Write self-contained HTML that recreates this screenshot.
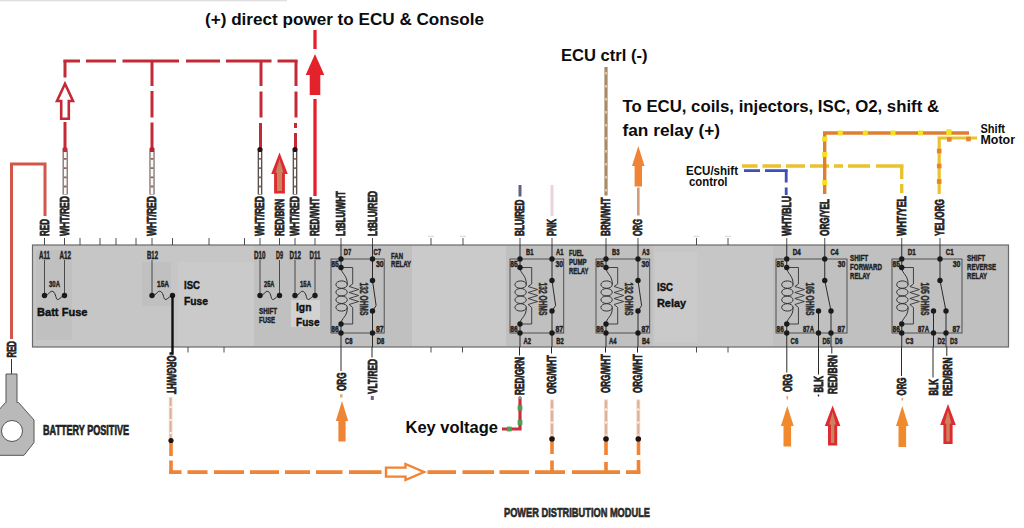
<!DOCTYPE html>
<html lang="en">
<head>
<meta charset="utf-8">
<title>Power Distribution Module wiring</title>
<style>
html,body{margin:0;padding:0;background:#fff;}
body{width:1024px;height:528px;overflow:hidden;}
svg{display:block;font-family:"Liberation Sans", sans-serif;}
</style>
</head>
<body>
<svg width="1024" height="528" viewBox="0 0 1024 528">
<rect x="0" y="0" width="1024" height="528" fill="#fff"/>
<rect x="0" y="0" width="287" height="1.3" fill="#e0e0e0" stroke="none" stroke-width="0"/>
<rect x="32.5" y="245" width="976.0" height="102" fill="#c6c6c6" stroke="none" stroke-width="0"/>
<rect x="254" y="245" width="158" height="102" fill="#c0c0c0" stroke="none" stroke-width="0"/>
<rect x="506" y="245" width="147" height="102" fill="#c0c0c0" stroke="none" stroke-width="0"/>
<rect x="773" y="245" width="235.5" height="102" fill="#c0c0c0" stroke="none" stroke-width="0"/>
<rect x="36" y="250" width="36" height="90" fill="#c0c0c0" stroke="none" stroke-width="0"/>
<rect x="142" y="262" width="29" height="44" fill="#c0c0c0" stroke="none" stroke-width="0"/>
<rect x="412" y="246" width="94" height="100" fill="#cacaca" stroke="none" stroke-width="0"/>
<rect x="655" y="252" width="42" height="90" fill="#cacaca" stroke="none" stroke-width="0"/>
<rect x="291" y="300" width="29" height="27" fill="#d2d2d2" stroke="none" stroke-width="0"/>
<rect x="178" y="262" width="76" height="84.5" fill="#cacaca" stroke="none" stroke-width="0"/>
<rect x="32.5" y="245" width="976.0" height="102" fill="none" stroke="#6a6a6a" stroke-width="1.2"/>
<line x1="44.5" y1="238" x2="44.5" y2="245" stroke="#3a3a3a" stroke-width="0.9" />
<line x1="64.5" y1="238" x2="64.5" y2="245" stroke="#3a3a3a" stroke-width="0.9" />
<line x1="80" y1="238" x2="80" y2="245" stroke="#3a3a3a" stroke-width="0.9" />
<line x1="100" y1="238" x2="100" y2="245" stroke="#3a3a3a" stroke-width="0.9" />
<line x1="116" y1="238" x2="116" y2="245" stroke="#3a3a3a" stroke-width="0.9" />
<line x1="136" y1="238" x2="136" y2="245" stroke="#3a3a3a" stroke-width="0.9" />
<line x1="152" y1="238" x2="152" y2="245" stroke="#3a3a3a" stroke-width="0.9" />
<line x1="172.5" y1="238" x2="172.5" y2="245" stroke="#3a3a3a" stroke-width="0.9" />
<line x1="209" y1="238" x2="209" y2="245" stroke="#3a3a3a" stroke-width="0.9" />
<line x1="244.5" y1="238" x2="244.5" y2="245" stroke="#3a3a3a" stroke-width="0.9" />
<line x1="260" y1="238" x2="260" y2="245" stroke="#3a3a3a" stroke-width="0.9" />
<line x1="279.5" y1="238" x2="279.5" y2="245" stroke="#3a3a3a" stroke-width="0.9" />
<line x1="295" y1="238" x2="295" y2="245" stroke="#3a3a3a" stroke-width="0.9" />
<line x1="315" y1="238" x2="315" y2="245" stroke="#3a3a3a" stroke-width="0.9" />
<line x1="341" y1="238" x2="341" y2="245" stroke="#3a3a3a" stroke-width="0.9" />
<line x1="372.5" y1="238" x2="372.5" y2="245" stroke="#3a3a3a" stroke-width="0.9" />
<line x1="431" y1="238" x2="431" y2="245" stroke="#3a3a3a" stroke-width="0.9" />
<line x1="463" y1="238" x2="463" y2="245" stroke="#3a3a3a" stroke-width="0.9" />
<line x1="520" y1="238" x2="520" y2="245" stroke="#3a3a3a" stroke-width="0.9" />
<line x1="552" y1="238" x2="552" y2="245" stroke="#3a3a3a" stroke-width="0.9" />
<line x1="606" y1="238" x2="606" y2="245" stroke="#3a3a3a" stroke-width="0.9" />
<line x1="638" y1="238" x2="638" y2="245" stroke="#3a3a3a" stroke-width="0.9" />
<line x1="696.5" y1="238" x2="696.5" y2="245" stroke="#3a3a3a" stroke-width="0.9" />
<line x1="728" y1="238" x2="728" y2="245" stroke="#3a3a3a" stroke-width="0.9" />
<line x1="786.75" y1="238" x2="786.75" y2="245" stroke="#3a3a3a" stroke-width="0.9" />
<line x1="824.75" y1="238" x2="824.75" y2="245" stroke="#3a3a3a" stroke-width="0.9" />
<line x1="901.75" y1="238" x2="901.75" y2="245" stroke="#3a3a3a" stroke-width="0.9" />
<line x1="940" y1="238" x2="940" y2="245" stroke="#3a3a3a" stroke-width="0.9" />
<line x1="428" y1="236.3" x2="434" y2="236.3" stroke="#cfcfcf" stroke-width="0.9" />
<line x1="460" y1="236.3" x2="466" y2="236.3" stroke="#cfcfcf" stroke-width="0.9" />
<line x1="693.5" y1="236.3" x2="699.5" y2="236.3" stroke="#cfcfcf" stroke-width="0.9" />
<line x1="725" y1="236.3" x2="731" y2="236.3" stroke="#cfcfcf" stroke-width="0.9" />
<line x1="188" y1="347" x2="188" y2="352.5" stroke="#3a3a3a" stroke-width="0.9" />
<line x1="224" y1="347" x2="224" y2="352.5" stroke="#3a3a3a" stroke-width="0.9" />
<line x1="431" y1="347" x2="431" y2="352.5" stroke="#3a3a3a" stroke-width="0.9" />
<line x1="462.5" y1="347" x2="462.5" y2="352.5" stroke="#3a3a3a" stroke-width="0.9" />
<line x1="696.5" y1="347" x2="696.5" y2="352.5" stroke="#3a3a3a" stroke-width="0.9" />
<line x1="728" y1="347" x2="728" y2="352.5" stroke="#3a3a3a" stroke-width="0.9" />
<path d="M45 216 V164 H11.5 V339" stroke="#d0574a" stroke-width="3" fill="none" />
<text transform="translate(48.94,236.00) rotate(-90)" font-size="12.4" font-weight="700" fill="#222" stroke="#222" stroke-width="0.7" textLength="17.00" lengthAdjust="spacingAndGlyphs">RED</text>
<text transform="translate(16.44,357.50) rotate(-90)" font-size="12.4" font-weight="700" fill="#222" stroke="#222" stroke-width="0.7" textLength="16.50" lengthAdjust="spacingAndGlyphs">RED</text>
<line x1="11.5" y1="359" x2="11.5" y2="374" stroke="#333" stroke-width="1" />
<path d="M6 374 H17 V402.5 H18.5 L34 420 V442.5 L24 455.3 H0 L-10 442.5 V420 L5.5 402.5 H6 Z" stroke="#555" stroke-width="1" fill="#b9b9b9" />
<circle cx="12" cy="431" r="10.5" fill="#fff" stroke="#555" stroke-width="1"/>
<text x="43.00" y="435.00" font-size="14" font-weight="700" fill="#222" stroke="#222" stroke-width="0.7" textLength="86.00" lengthAdjust="spacingAndGlyphs">BATTERY POSITIVE</text>
<line x1="44.5" y1="260" x2="44.5" y2="295.5" stroke="#3a3a3a" stroke-width="0.9" />
<line x1="64.5" y1="260" x2="64.5" y2="295.5" stroke="#3a3a3a" stroke-width="0.9" />
<path d="M44.5 295.5 C49.5 295.5 49.5 290 52.9 291.5 S55.5 300.5 58.1 299.5 S62.1 295.5 64.5 295.5" stroke="#2a2a2a" stroke-width="1" fill="none" />
<circle cx="44.5" cy="295.5" r="2.7" fill="#1a1a1a"/>
<circle cx="64.5" cy="295.5" r="2.7" fill="#1a1a1a"/>
<text x="39.00" y="258.60" font-size="10.3" font-weight="700" fill="#222" stroke="#222" stroke-width="0.45" textLength="11.00" lengthAdjust="spacingAndGlyphs">A11</text>
<text x="59.50" y="258.60" font-size="10.3" font-weight="700" fill="#222" stroke="#222" stroke-width="0.45" textLength="11.50" lengthAdjust="spacingAndGlyphs">A12</text>
<text x="49.00" y="287.40" font-size="9.3" font-weight="700" fill="#222" stroke="#222" stroke-width="0.45" textLength="11.00" lengthAdjust="spacingAndGlyphs">30A</text>
<line x1="152" y1="260" x2="152" y2="295.5" stroke="#3a3a3a" stroke-width="0.9" />
<path d="M152 295.5 C157.125 295.5 157.125 290 160.61 291.5 S163.275 300.5 165.94 299.5 S170.04 295.5 172.5 295.5" stroke="#2a2a2a" stroke-width="1" fill="none" />
<circle cx="152" cy="295.5" r="2.7" fill="#1a1a1a"/>
<circle cx="172.5" cy="295.5" r="2.7" fill="#1a1a1a"/>
<text x="147.00" y="258.60" font-size="10.3" font-weight="700" fill="#222" stroke="#222" stroke-width="0.45" textLength="11.00" lengthAdjust="spacingAndGlyphs">B12</text>
<text x="157.00" y="287.40" font-size="9.3" font-weight="700" fill="#222" stroke="#222" stroke-width="0.45" textLength="12.00" lengthAdjust="spacingAndGlyphs">15A</text>
<line x1="260" y1="260" x2="260" y2="295.5" stroke="#3a3a3a" stroke-width="0.9" />
<line x1="279.5" y1="260" x2="279.5" y2="295.5" stroke="#3a3a3a" stroke-width="0.9" />
<path d="M260 295.5 C264.875 295.5 264.875 290 268.19 291.5 S270.725 300.5 273.26 299.5 S277.16 295.5 279.5 295.5" stroke="#2a2a2a" stroke-width="1" fill="none" />
<circle cx="260" cy="295.5" r="2.7" fill="#1a1a1a"/>
<circle cx="279.5" cy="295.5" r="2.7" fill="#1a1a1a"/>
<text x="254.00" y="258.60" font-size="10.3" font-weight="700" fill="#222" stroke="#222" stroke-width="0.45" textLength="11.50" lengthAdjust="spacingAndGlyphs">D10</text>
<text x="276.00" y="258.60" font-size="10.3" font-weight="700" fill="#222" stroke="#222" stroke-width="0.45" textLength="7.00" lengthAdjust="spacingAndGlyphs">D9</text>
<text x="264.00" y="287.40" font-size="9.3" font-weight="700" fill="#222" stroke="#222" stroke-width="0.45" textLength="10.50" lengthAdjust="spacingAndGlyphs">25A</text>
<line x1="295" y1="260" x2="295" y2="295.5" stroke="#3a3a3a" stroke-width="0.9" />
<line x1="315" y1="260" x2="315" y2="295.5" stroke="#3a3a3a" stroke-width="0.9" />
<path d="M295 295.5 C300.0 295.5 300.0 290 303.4 291.5 S306.0 300.5 308.6 299.5 S312.6 295.5 315 295.5" stroke="#2a2a2a" stroke-width="1" fill="none" />
<circle cx="295" cy="295.5" r="2.7" fill="#1a1a1a"/>
<circle cx="315" cy="295.5" r="2.7" fill="#1a1a1a"/>
<text x="289.50" y="258.60" font-size="10.3" font-weight="700" fill="#222" stroke="#222" stroke-width="0.45" textLength="11.50" lengthAdjust="spacingAndGlyphs">D12</text>
<text x="309.50" y="258.60" font-size="10.3" font-weight="700" fill="#222" stroke="#222" stroke-width="0.45" textLength="11.00" lengthAdjust="spacingAndGlyphs">D11</text>
<text x="300.00" y="287.40" font-size="9.3" font-weight="700" fill="#222" stroke="#222" stroke-width="0.45" textLength="11.00" lengthAdjust="spacingAndGlyphs">15A</text>
<text x="259.00" y="314.00" font-size="9" font-weight="700" fill="#222" stroke="#222" stroke-width="0.45" textLength="18.00" lengthAdjust="spacingAndGlyphs">SHIFT</text>
<text x="259.00" y="322.50" font-size="9" font-weight="700" fill="#222" stroke="#222" stroke-width="0.45" textLength="16.00" lengthAdjust="spacingAndGlyphs">FUSE</text>
<text x="37.00" y="316.00" font-size="11.4" font-weight="700" fill="#111" stroke="#111" stroke-width="0.4" textLength="50.50" lengthAdjust="spacingAndGlyphs">Batt Fuse</text>
<text x="184.00" y="289.00" font-size="11.4" font-weight="700" fill="#111" stroke="#111" stroke-width="0.4" textLength="16.00" lengthAdjust="spacingAndGlyphs">ISC</text>
<text x="184.00" y="305.00" font-size="11.4" font-weight="700" fill="#111" stroke="#111" stroke-width="0.4" textLength="24.00" lengthAdjust="spacingAndGlyphs">Fuse</text>
<text x="296.00" y="311.00" font-size="11.4" font-weight="700" fill="#111" stroke="#111" stroke-width="0.4" textLength="15.50" lengthAdjust="spacingAndGlyphs">Ign</text>
<text x="296.00" y="326.00" font-size="11.4" font-weight="700" fill="#111" stroke="#111" stroke-width="0.4" textLength="23.50" lengthAdjust="spacingAndGlyphs">Fuse</text>
<text x="657.00" y="291.00" font-size="11.4" font-weight="700" fill="#111" stroke="#111" stroke-width="0.4" textLength="16.00" lengthAdjust="spacingAndGlyphs">ISC</text>
<text x="657.00" y="307.00" font-size="11.4" font-weight="700" fill="#111" stroke="#111" stroke-width="0.4" textLength="29.00" lengthAdjust="spacingAndGlyphs">Relay</text>
<rect x="331" y="259" width="53.19999999999999" height="74" fill="none" stroke="#444" stroke-width="0.9"/>
<line x1="341" y1="245" x2="341" y2="267.5" stroke="#2a2a2a" stroke-width="1" />
<line x1="341" y1="324" x2="341" y2="347" stroke="#2a2a2a" stroke-width="1" />
<line x1="372.5" y1="245" x2="372.5" y2="280.5" stroke="#2a2a2a" stroke-width="1" />
<line x1="372.5" y1="311" x2="372.5" y2="347" stroke="#2a2a2a" stroke-width="1" />
<path d="M372.5 280.5 L376.1 305.5 L372.5 311" stroke="#2a2a2a" stroke-width="1" fill="none" />
<path d="M341 267.5 C341.3 274 347.6 275 347.3 284.6" stroke="#333" stroke-width="1" fill="none" />
<path d="M347.3 307.4 C347.6 317 341.3 317.5 341 324" stroke="#333" stroke-width="1" fill="none" />
<ellipse cx="341.6" cy="284.6" rx="5.7" ry="3.7" fill="none" stroke="#333" stroke-width="1"/>
<ellipse cx="341.6" cy="292.2" rx="5.7" ry="3.7" fill="none" stroke="#333" stroke-width="1"/>
<ellipse cx="341.6" cy="299.8" rx="5.7" ry="3.7" fill="none" stroke="#333" stroke-width="1"/>
<ellipse cx="341.6" cy="307.4" rx="5.7" ry="3.7" fill="none" stroke="#333" stroke-width="1"/>
<path d="M341 267.5 H352.7 V284 L349.09999999999997 286.5 L358.7 289.5 L349.09999999999997 292.5 L358.7 295.5 L349.09999999999997 298.5 L358.7 301.5 L349.09999999999997 304.5 L352.7 307.5 V324 H341" stroke="#333" stroke-width="0.9" fill="none" />
<text transform="translate(359.92,282.50) rotate(90)" font-size="10" font-weight="700" fill="#2c2c2c" stroke="#2c2c2c" stroke-width="0.5" textLength="33.00" lengthAdjust="spacingAndGlyphs">132 OHMS</text>
<circle cx="341" cy="259" r="2.7" fill="#1a1a1a"/>
<circle cx="341" cy="267.5" r="2.7" fill="#1a1a1a"/>
<circle cx="341" cy="324" r="2.7" fill="#1a1a1a"/>
<circle cx="341" cy="333" r="2.7" fill="#1a1a1a"/>
<circle cx="372.5" cy="259" r="2.7" fill="#1a1a1a"/>
<circle cx="372.5" cy="280.5" r="2.7" fill="#1a1a1a"/>
<circle cx="372.5" cy="311" r="2.7" fill="#1a1a1a"/>
<circle cx="372.5" cy="333" r="2.7" fill="#1a1a1a"/>
<text x="331.30" y="267.00" font-size="9" font-weight="700" fill="#222" stroke="#222" stroke-width="0.45" textLength="7.50" lengthAdjust="spacingAndGlyphs">85</text>
<text x="331.30" y="332.30" font-size="9" font-weight="700" fill="#222" stroke="#222" stroke-width="0.45" textLength="7.50" lengthAdjust="spacingAndGlyphs">86</text>
<text x="375.90" y="267.00" font-size="9" font-weight="700" fill="#222" stroke="#222" stroke-width="0.45" textLength="7.70" lengthAdjust="spacingAndGlyphs">30</text>
<text x="375.90" y="332.30" font-size="9" font-weight="700" fill="#222" stroke="#222" stroke-width="0.45" textLength="7.70" lengthAdjust="spacingAndGlyphs">87</text>
<text x="343.70" y="254.60" font-size="9" font-weight="700" fill="#222" stroke="#222" stroke-width="0.45" textLength="7.50" lengthAdjust="spacingAndGlyphs">D7</text>
<text x="373.50" y="254.60" font-size="9" font-weight="700" fill="#222" stroke="#222" stroke-width="0.45" textLength="7.50" lengthAdjust="spacingAndGlyphs">C7</text>
<text x="345.00" y="344.00" font-size="9" font-weight="700" fill="#222" stroke="#222" stroke-width="0.45" textLength="7.50" lengthAdjust="spacingAndGlyphs">C8</text>
<text x="376.80" y="344.00" font-size="9" font-weight="700" fill="#222" stroke="#222" stroke-width="0.45" textLength="7.50" lengthAdjust="spacingAndGlyphs">D8</text>
<text x="391.00" y="259.00" font-size="9.3" font-weight="700" fill="#222" stroke="#222" stroke-width="0.45" textLength="12.00" lengthAdjust="spacingAndGlyphs">FAN</text>
<text x="391.00" y="267.30" font-size="9.3" font-weight="700" fill="#222" stroke="#222" stroke-width="0.45" textLength="20.00" lengthAdjust="spacingAndGlyphs">RELAY</text>
<rect x="510" y="259" width="53.700000000000045" height="74" fill="none" stroke="#444" stroke-width="0.9"/>
<line x1="520" y1="245" x2="520" y2="267.5" stroke="#2a2a2a" stroke-width="1" />
<line x1="520" y1="324" x2="520" y2="347" stroke="#2a2a2a" stroke-width="1" />
<line x1="552" y1="245" x2="552" y2="280.5" stroke="#2a2a2a" stroke-width="1" />
<line x1="552" y1="311" x2="552" y2="347" stroke="#2a2a2a" stroke-width="1" />
<path d="M552 280.5 L555.6 305.5 L552 311" stroke="#2a2a2a" stroke-width="1" fill="none" />
<path d="M520 267.5 C520.3 274 526.6 275 526.3 284.6" stroke="#333" stroke-width="1" fill="none" />
<path d="M526.3 307.4 C526.6 317 520.3 317.5 520 324" stroke="#333" stroke-width="1" fill="none" />
<ellipse cx="520.6" cy="284.6" rx="5.7" ry="3.7" fill="none" stroke="#333" stroke-width="1"/>
<ellipse cx="520.6" cy="292.2" rx="5.7" ry="3.7" fill="none" stroke="#333" stroke-width="1"/>
<ellipse cx="520.6" cy="299.8" rx="5.7" ry="3.7" fill="none" stroke="#333" stroke-width="1"/>
<ellipse cx="520.6" cy="307.4" rx="5.7" ry="3.7" fill="none" stroke="#333" stroke-width="1"/>
<path d="M520 267.5 H531.7 V284 L528.1 286.5 L537.7 289.5 L528.1 292.5 L537.7 295.5 L528.1 298.5 L537.7 301.5 L528.1 304.5 L531.7 307.5 V324 H520" stroke="#333" stroke-width="0.9" fill="none" />
<text transform="translate(538.92,282.50) rotate(90)" font-size="10" font-weight="700" fill="#2c2c2c" stroke="#2c2c2c" stroke-width="0.5" textLength="33.00" lengthAdjust="spacingAndGlyphs">132 OHMS</text>
<circle cx="520" cy="259" r="2.7" fill="#1a1a1a"/>
<circle cx="520" cy="267.5" r="2.7" fill="#1a1a1a"/>
<circle cx="520" cy="324" r="2.7" fill="#1a1a1a"/>
<circle cx="520" cy="333" r="2.7" fill="#1a1a1a"/>
<circle cx="552" cy="259" r="2.7" fill="#1a1a1a"/>
<circle cx="552" cy="280.5" r="2.7" fill="#1a1a1a"/>
<circle cx="552" cy="311" r="2.7" fill="#1a1a1a"/>
<circle cx="552" cy="333" r="2.7" fill="#1a1a1a"/>
<text x="510.30" y="267.00" font-size="9" font-weight="700" fill="#222" stroke="#222" stroke-width="0.45" textLength="7.50" lengthAdjust="spacingAndGlyphs">85</text>
<text x="510.30" y="332.30" font-size="9" font-weight="700" fill="#222" stroke="#222" stroke-width="0.45" textLength="7.50" lengthAdjust="spacingAndGlyphs">86</text>
<text x="555.40" y="267.00" font-size="9" font-weight="700" fill="#222" stroke="#222" stroke-width="0.45" textLength="7.70" lengthAdjust="spacingAndGlyphs">30</text>
<text x="555.40" y="332.30" font-size="9" font-weight="700" fill="#222" stroke="#222" stroke-width="0.45" textLength="7.70" lengthAdjust="spacingAndGlyphs">87</text>
<text x="526.00" y="254.60" font-size="9" font-weight="700" fill="#222" stroke="#222" stroke-width="0.45" textLength="7.50" lengthAdjust="spacingAndGlyphs">B1</text>
<text x="556.00" y="254.60" font-size="9" font-weight="700" fill="#222" stroke="#222" stroke-width="0.45" textLength="7.50" lengthAdjust="spacingAndGlyphs">A1</text>
<text x="523.50" y="344.00" font-size="9" font-weight="700" fill="#222" stroke="#222" stroke-width="0.45" textLength="7.50" lengthAdjust="spacingAndGlyphs">A2</text>
<text x="556.20" y="344.00" font-size="9" font-weight="700" fill="#222" stroke="#222" stroke-width="0.45" textLength="7.50" lengthAdjust="spacingAndGlyphs">B2</text>
<text x="569.00" y="256.30" font-size="9.3" font-weight="700" fill="#222" stroke="#222" stroke-width="0.45" textLength="14.50" lengthAdjust="spacingAndGlyphs">FUEL</text>
<text x="569.00" y="265.20" font-size="9.3" font-weight="700" fill="#222" stroke="#222" stroke-width="0.45" textLength="17.50" lengthAdjust="spacingAndGlyphs">PUMP</text>
<text x="569.00" y="274.00" font-size="9.3" font-weight="700" fill="#222" stroke="#222" stroke-width="0.45" textLength="19.50" lengthAdjust="spacingAndGlyphs">RELAY</text>
<rect x="596" y="259" width="53.700000000000045" height="74" fill="none" stroke="#444" stroke-width="0.9"/>
<line x1="606" y1="245" x2="606" y2="267.5" stroke="#2a2a2a" stroke-width="1" />
<line x1="606" y1="324" x2="606" y2="347" stroke="#2a2a2a" stroke-width="1" />
<line x1="638" y1="245" x2="638" y2="280.5" stroke="#2a2a2a" stroke-width="1" />
<line x1="638" y1="311" x2="638" y2="347" stroke="#2a2a2a" stroke-width="1" />
<path d="M638 280.5 L641.6 305.5 L638 311" stroke="#2a2a2a" stroke-width="1" fill="none" />
<path d="M606 267.5 C606.3 274 612.6 275 612.3 284.6" stroke="#333" stroke-width="1" fill="none" />
<path d="M612.3 307.4 C612.6 317 606.3 317.5 606 324" stroke="#333" stroke-width="1" fill="none" />
<ellipse cx="606.6" cy="284.6" rx="5.7" ry="3.7" fill="none" stroke="#333" stroke-width="1"/>
<ellipse cx="606.6" cy="292.2" rx="5.7" ry="3.7" fill="none" stroke="#333" stroke-width="1"/>
<ellipse cx="606.6" cy="299.8" rx="5.7" ry="3.7" fill="none" stroke="#333" stroke-width="1"/>
<ellipse cx="606.6" cy="307.4" rx="5.7" ry="3.7" fill="none" stroke="#333" stroke-width="1"/>
<path d="M606 267.5 H617.7 V284 L614.1 286.5 L623.7 289.5 L614.1 292.5 L623.7 295.5 L614.1 298.5 L623.7 301.5 L614.1 304.5 L617.7 307.5 V324 H606" stroke="#333" stroke-width="0.9" fill="none" />
<text transform="translate(624.92,282.50) rotate(90)" font-size="10" font-weight="700" fill="#2c2c2c" stroke="#2c2c2c" stroke-width="0.5" textLength="33.00" lengthAdjust="spacingAndGlyphs">132 OHMS</text>
<circle cx="606" cy="259" r="2.7" fill="#1a1a1a"/>
<circle cx="606" cy="267.5" r="2.7" fill="#1a1a1a"/>
<circle cx="606" cy="324" r="2.7" fill="#1a1a1a"/>
<circle cx="606" cy="333" r="2.7" fill="#1a1a1a"/>
<circle cx="638" cy="259" r="2.7" fill="#1a1a1a"/>
<circle cx="638" cy="280.5" r="2.7" fill="#1a1a1a"/>
<circle cx="638" cy="311" r="2.7" fill="#1a1a1a"/>
<circle cx="638" cy="333" r="2.7" fill="#1a1a1a"/>
<text x="596.30" y="267.00" font-size="9" font-weight="700" fill="#222" stroke="#222" stroke-width="0.45" textLength="7.50" lengthAdjust="spacingAndGlyphs">85</text>
<text x="596.30" y="332.30" font-size="9" font-weight="700" fill="#222" stroke="#222" stroke-width="0.45" textLength="7.50" lengthAdjust="spacingAndGlyphs">86</text>
<text x="641.40" y="267.00" font-size="9" font-weight="700" fill="#222" stroke="#222" stroke-width="0.45" textLength="7.70" lengthAdjust="spacingAndGlyphs">30</text>
<text x="641.40" y="332.30" font-size="9" font-weight="700" fill="#222" stroke="#222" stroke-width="0.45" textLength="7.70" lengthAdjust="spacingAndGlyphs">87</text>
<text x="612.00" y="254.60" font-size="9" font-weight="700" fill="#222" stroke="#222" stroke-width="0.45" textLength="7.50" lengthAdjust="spacingAndGlyphs">B3</text>
<text x="642.00" y="254.60" font-size="9" font-weight="700" fill="#222" stroke="#222" stroke-width="0.45" textLength="7.50" lengthAdjust="spacingAndGlyphs">A3</text>
<text x="609.00" y="344.00" font-size="9" font-weight="700" fill="#222" stroke="#222" stroke-width="0.45" textLength="7.50" lengthAdjust="spacingAndGlyphs">A4</text>
<text x="642.00" y="344.00" font-size="9" font-weight="700" fill="#222" stroke="#222" stroke-width="0.45" textLength="7.50" lengthAdjust="spacingAndGlyphs">B4</text>
<rect x="776" y="259" width="71" height="74" fill="none" stroke="#444" stroke-width="0.9"/>
<line x1="786.75" y1="245" x2="786.75" y2="267.5" stroke="#2a2a2a" stroke-width="1" />
<line x1="786.75" y1="324" x2="786.75" y2="347" stroke="#2a2a2a" stroke-width="1" />
<line x1="824.75" y1="245" x2="824.75" y2="280.5" stroke="#2a2a2a" stroke-width="1" />
<line x1="818.5" y1="311" x2="818.5" y2="347" stroke="#2a2a2a" stroke-width="1" />
<line x1="831" y1="311" x2="831" y2="347" stroke="#2a2a2a" stroke-width="1" />
<line x1="824.75" y1="280.5" x2="831" y2="311" stroke="#2a2a2a" stroke-width="1" />
<path d="M786.75 267.5 C787.05 274 793.35 275 793.05 284.6" stroke="#333" stroke-width="1" fill="none" />
<path d="M793.05 307.4 C793.35 317 787.05 317.5 786.75 324" stroke="#333" stroke-width="1" fill="none" />
<ellipse cx="787.35" cy="284.6" rx="5.7" ry="3.7" fill="none" stroke="#333" stroke-width="1"/>
<ellipse cx="787.35" cy="292.2" rx="5.7" ry="3.7" fill="none" stroke="#333" stroke-width="1"/>
<ellipse cx="787.35" cy="299.8" rx="5.7" ry="3.7" fill="none" stroke="#333" stroke-width="1"/>
<ellipse cx="787.35" cy="307.4" rx="5.7" ry="3.7" fill="none" stroke="#333" stroke-width="1"/>
<path d="M786.75 267.5 H798.45 V284 L794.85 286.5 L804.45 289.5 L794.85 292.5 L804.45 295.5 L794.85 298.5 L804.45 301.5 L794.85 304.5 L798.45 307.5 V324 H786.75" stroke="#333" stroke-width="0.9" fill="none" />
<text transform="translate(805.67,282.50) rotate(90)" font-size="10" font-weight="700" fill="#2c2c2c" stroke="#2c2c2c" stroke-width="0.5" textLength="33.00" lengthAdjust="spacingAndGlyphs">105 OHMS</text>
<circle cx="786.75" cy="259" r="2.7" fill="#1a1a1a"/>
<circle cx="786.75" cy="267.5" r="2.7" fill="#1a1a1a"/>
<circle cx="786.75" cy="324" r="2.7" fill="#1a1a1a"/>
<circle cx="786.75" cy="333" r="2.7" fill="#1a1a1a"/>
<circle cx="824.75" cy="259" r="2.7" fill="#1a1a1a"/>
<circle cx="824.75" cy="280.5" r="2.7" fill="#1a1a1a"/>
<circle cx="818.5" cy="311" r="2.7" fill="#1a1a1a"/>
<circle cx="818.5" cy="333" r="2.7" fill="#1a1a1a"/>
<circle cx="831" cy="311" r="2.7" fill="#1a1a1a"/>
<circle cx="831" cy="333" r="2.7" fill="#1a1a1a"/>
<text x="776.60" y="267.00" font-size="9" font-weight="700" fill="#222" stroke="#222" stroke-width="0.45" textLength="7.30" lengthAdjust="spacingAndGlyphs">85</text>
<text x="776.60" y="332.30" font-size="9" font-weight="700" fill="#222" stroke="#222" stroke-width="0.45" textLength="7.30" lengthAdjust="spacingAndGlyphs">86</text>
<text x="837.70" y="267.00" font-size="9" font-weight="700" fill="#222" stroke="#222" stroke-width="0.45" textLength="7.70" lengthAdjust="spacingAndGlyphs">30</text>
<text x="837.40" y="332.30" font-size="9" font-weight="700" fill="#222" stroke="#222" stroke-width="0.45" textLength="7.50" lengthAdjust="spacingAndGlyphs">87</text>
<text x="803.00" y="332.30" font-size="9" font-weight="700" fill="#222" stroke="#222" stroke-width="0.45" textLength="11.00" lengthAdjust="spacingAndGlyphs">87A</text>
<text x="792.75" y="254.80" font-size="8.5" font-weight="700" fill="#222" stroke="#222" stroke-width="0.45" textLength="8.00" lengthAdjust="spacingAndGlyphs">D4</text>
<text x="830.55" y="254.80" font-size="8.5" font-weight="700" fill="#222" stroke="#222" stroke-width="0.45" textLength="8.00" lengthAdjust="spacingAndGlyphs">C4</text>
<text x="790.55" y="344.00" font-size="8.5" font-weight="700" fill="#222" stroke="#222" stroke-width="0.45" textLength="7.70" lengthAdjust="spacingAndGlyphs">C6</text>
<text x="822.50" y="344.00" font-size="8.5" font-weight="700" fill="#222" stroke="#222" stroke-width="0.45" textLength="7.50" lengthAdjust="spacingAndGlyphs">D5</text>
<text x="835.00" y="344.00" font-size="8.5" font-weight="700" fill="#222" stroke="#222" stroke-width="0.45" textLength="7.50" lengthAdjust="spacingAndGlyphs">D6</text>
<text x="850.00" y="261.30" font-size="9" font-weight="700" fill="#222" stroke="#222" stroke-width="0.45" textLength="18.00" lengthAdjust="spacingAndGlyphs">SHIFT</text>
<text x="850.00" y="270.20" font-size="9" font-weight="700" fill="#222" stroke="#222" stroke-width="0.45" textLength="32.00" lengthAdjust="spacingAndGlyphs">FORWARD</text>
<text x="850.00" y="279.00" font-size="9" font-weight="700" fill="#222" stroke="#222" stroke-width="0.45" textLength="20.00" lengthAdjust="spacingAndGlyphs">RELAY</text>
<rect x="892" y="259" width="70" height="74" fill="none" stroke="#444" stroke-width="0.9"/>
<line x1="901.75" y1="245" x2="901.75" y2="267.5" stroke="#2a2a2a" stroke-width="1" />
<line x1="901.75" y1="324" x2="901.75" y2="347" stroke="#2a2a2a" stroke-width="1" />
<line x1="940" y1="245" x2="940" y2="280.5" stroke="#2a2a2a" stroke-width="1" />
<line x1="933.5" y1="311" x2="933.5" y2="347" stroke="#2a2a2a" stroke-width="1" />
<line x1="946" y1="311" x2="946" y2="347" stroke="#2a2a2a" stroke-width="1" />
<line x1="940" y1="280.5" x2="946" y2="311" stroke="#2a2a2a" stroke-width="1" />
<path d="M901.75 267.5 C902.05 274 908.35 275 908.05 284.6" stroke="#333" stroke-width="1" fill="none" />
<path d="M908.05 307.4 C908.35 317 902.05 317.5 901.75 324" stroke="#333" stroke-width="1" fill="none" />
<ellipse cx="902.35" cy="284.6" rx="5.7" ry="3.7" fill="none" stroke="#333" stroke-width="1"/>
<ellipse cx="902.35" cy="292.2" rx="5.7" ry="3.7" fill="none" stroke="#333" stroke-width="1"/>
<ellipse cx="902.35" cy="299.8" rx="5.7" ry="3.7" fill="none" stroke="#333" stroke-width="1"/>
<ellipse cx="902.35" cy="307.4" rx="5.7" ry="3.7" fill="none" stroke="#333" stroke-width="1"/>
<path d="M901.75 267.5 H913.45 V284 L909.85 286.5 L919.45 289.5 L909.85 292.5 L919.45 295.5 L909.85 298.5 L919.45 301.5 L909.85 304.5 L913.45 307.5 V324 H901.75" stroke="#333" stroke-width="0.9" fill="none" />
<text transform="translate(920.67,282.50) rotate(90)" font-size="10" font-weight="700" fill="#2c2c2c" stroke="#2c2c2c" stroke-width="0.5" textLength="33.00" lengthAdjust="spacingAndGlyphs">105 OHMS</text>
<circle cx="901.75" cy="259" r="2.7" fill="#1a1a1a"/>
<circle cx="901.75" cy="267.5" r="2.7" fill="#1a1a1a"/>
<circle cx="901.75" cy="324" r="2.7" fill="#1a1a1a"/>
<circle cx="901.75" cy="333" r="2.7" fill="#1a1a1a"/>
<circle cx="940" cy="259" r="2.7" fill="#1a1a1a"/>
<circle cx="940" cy="280.5" r="2.7" fill="#1a1a1a"/>
<circle cx="933.5" cy="311" r="2.7" fill="#1a1a1a"/>
<circle cx="933.5" cy="333" r="2.7" fill="#1a1a1a"/>
<circle cx="946" cy="311" r="2.7" fill="#1a1a1a"/>
<circle cx="946" cy="333" r="2.7" fill="#1a1a1a"/>
<text x="892.60" y="267.00" font-size="9" font-weight="700" fill="#222" stroke="#222" stroke-width="0.45" textLength="7.30" lengthAdjust="spacingAndGlyphs">85</text>
<text x="892.60" y="332.30" font-size="9" font-weight="700" fill="#222" stroke="#222" stroke-width="0.45" textLength="7.30" lengthAdjust="spacingAndGlyphs">86</text>
<text x="952.70" y="267.00" font-size="9" font-weight="700" fill="#222" stroke="#222" stroke-width="0.45" textLength="7.70" lengthAdjust="spacingAndGlyphs">30</text>
<text x="952.40" y="332.30" font-size="9" font-weight="700" fill="#222" stroke="#222" stroke-width="0.45" textLength="7.50" lengthAdjust="spacingAndGlyphs">87</text>
<text x="918.00" y="332.30" font-size="9" font-weight="700" fill="#222" stroke="#222" stroke-width="0.45" textLength="11.00" lengthAdjust="spacingAndGlyphs">87A</text>
<text x="907.75" y="254.80" font-size="8.5" font-weight="700" fill="#222" stroke="#222" stroke-width="0.45" textLength="8.00" lengthAdjust="spacingAndGlyphs">D1</text>
<text x="945.80" y="254.80" font-size="8.5" font-weight="700" fill="#222" stroke="#222" stroke-width="0.45" textLength="8.00" lengthAdjust="spacingAndGlyphs">C1</text>
<text x="905.55" y="344.00" font-size="8.5" font-weight="700" fill="#222" stroke="#222" stroke-width="0.45" textLength="7.70" lengthAdjust="spacingAndGlyphs">C3</text>
<text x="937.50" y="344.00" font-size="8.5" font-weight="700" fill="#222" stroke="#222" stroke-width="0.45" textLength="7.50" lengthAdjust="spacingAndGlyphs">D2</text>
<text x="950.00" y="344.00" font-size="8.5" font-weight="700" fill="#222" stroke="#222" stroke-width="0.45" textLength="7.50" lengthAdjust="spacingAndGlyphs">D3</text>
<text x="967.00" y="261.30" font-size="9" font-weight="700" fill="#222" stroke="#222" stroke-width="0.45" textLength="18.00" lengthAdjust="spacingAndGlyphs">SHIFT</text>
<text x="967.00" y="270.20" font-size="9" font-weight="700" fill="#222" stroke="#222" stroke-width="0.45" textLength="29.00" lengthAdjust="spacingAndGlyphs">REVERSE</text>
<text x="967.00" y="279.00" font-size="9" font-weight="700" fill="#222" stroke="#222" stroke-width="0.45" textLength="20.00" lengthAdjust="spacingAndGlyphs">RELAY</text>
<path d="M172.5 295.5 V353.5 H169.5" stroke="#111" stroke-width="2.4" fill="none" />
<text transform="translate(68.94,236.00) rotate(-90)" font-size="12.4" font-weight="700" fill="#222" stroke="#222" stroke-width="0.7" textLength="40.00" lengthAdjust="spacingAndGlyphs">WHT/RED</text>
<text transform="translate(156.44,236.00) rotate(-90)" font-size="12.4" font-weight="700" fill="#222" stroke="#222" stroke-width="0.7" textLength="40.00" lengthAdjust="spacingAndGlyphs">WHT/RED</text>
<text transform="translate(264.44,236.00) rotate(-90)" font-size="12.4" font-weight="700" fill="#222" stroke="#222" stroke-width="0.7" textLength="40.00" lengthAdjust="spacingAndGlyphs">WHT/RED</text>
<text transform="translate(283.94,236.00) rotate(-90)" font-size="12.4" font-weight="700" fill="#222" stroke="#222" stroke-width="0.7" textLength="37.00" lengthAdjust="spacingAndGlyphs">RED/BRN</text>
<text transform="translate(299.44,236.00) rotate(-90)" font-size="12.4" font-weight="700" fill="#222" stroke="#222" stroke-width="0.7" textLength="40.00" lengthAdjust="spacingAndGlyphs">WHT/RED</text>
<text transform="translate(319.44,236.00) rotate(-90)" font-size="12.4" font-weight="700" fill="#222" stroke="#222" stroke-width="0.7" textLength="38.50" lengthAdjust="spacingAndGlyphs">RED/WHT</text>
<text transform="translate(345.44,236.00) rotate(-90)" font-size="12.4" font-weight="700" fill="#222" stroke="#222" stroke-width="0.7" textLength="45.00" lengthAdjust="spacingAndGlyphs">LtBLU/WHT</text>
<text transform="translate(376.94,236.00) rotate(-90)" font-size="12.4" font-weight="700" fill="#222" stroke="#222" stroke-width="0.7" textLength="45.00" lengthAdjust="spacingAndGlyphs">LtBLU/RED</text>
<text transform="translate(524.44,236.00) rotate(-90)" font-size="12.4" font-weight="700" fill="#222" stroke="#222" stroke-width="0.7" textLength="36.50" lengthAdjust="spacingAndGlyphs">BLU/RED</text>
<text transform="translate(556.44,236.00) rotate(-90)" font-size="12.4" font-weight="700" fill="#222" stroke="#222" stroke-width="0.7" textLength="17.00" lengthAdjust="spacingAndGlyphs">PNK</text>
<text transform="translate(610.44,236.00) rotate(-90)" font-size="12.4" font-weight="700" fill="#222" stroke="#222" stroke-width="0.7" textLength="38.50" lengthAdjust="spacingAndGlyphs">BRN/WHT</text>
<text transform="translate(642.44,236.00) rotate(-90)" font-size="12.4" font-weight="700" fill="#222" stroke="#222" stroke-width="0.7" textLength="17.00" lengthAdjust="spacingAndGlyphs">ORG</text>
<text transform="translate(791.19,236.00) rotate(-90)" font-size="12.4" font-weight="700" fill="#222" stroke="#222" stroke-width="0.7" textLength="40.00" lengthAdjust="spacingAndGlyphs">WHT/BLU</text>
<text transform="translate(829.19,236.00) rotate(-90)" font-size="12.4" font-weight="700" fill="#222" stroke="#222" stroke-width="0.7" textLength="37.00" lengthAdjust="spacingAndGlyphs">ORG/YEL</text>
<text transform="translate(906.19,236.00) rotate(-90)" font-size="12.4" font-weight="700" fill="#222" stroke="#222" stroke-width="0.7" textLength="40.00" lengthAdjust="spacingAndGlyphs">WHT/YEL</text>
<text transform="translate(943.94,236.00) rotate(-90)" font-size="12.4" font-weight="700" fill="#222" stroke="#222" stroke-width="0.7" textLength="37.00" lengthAdjust="spacingAndGlyphs">YEL/ORG</text>
<text transform="translate(345.94,391.00) rotate(-90)" font-size="12.4" font-weight="700" fill="#222" stroke="#222" stroke-width="0.7" textLength="18.50" lengthAdjust="spacingAndGlyphs">ORG</text>
<line x1="341.0" y1="347" x2="341.0" y2="371.0" stroke="#2a2a2a" stroke-width="1" />
<text transform="translate(376.94,394.00) rotate(-90)" font-size="12.4" font-weight="700" fill="#222" stroke="#222" stroke-width="0.7" textLength="35.00" lengthAdjust="spacingAndGlyphs">VLT/RED</text>
<line x1="372.0" y1="347" x2="372.0" y2="357.5" stroke="#2a2a2a" stroke-width="1" />
<text transform="translate(524.44,395.00) rotate(-90)" font-size="12.4" font-weight="700" fill="#222" stroke="#222" stroke-width="0.7" textLength="38.00" lengthAdjust="spacingAndGlyphs">RED/GRN</text>
<line x1="519.5" y1="347" x2="519.5" y2="355.5" stroke="#2a2a2a" stroke-width="1" />
<text transform="translate(556.44,394.00) rotate(-90)" font-size="12.4" font-weight="700" fill="#222" stroke="#222" stroke-width="0.7" textLength="39.00" lengthAdjust="spacingAndGlyphs">ORG/WHT</text>
<line x1="551.5" y1="347" x2="551.5" y2="353.5" stroke="#2a2a2a" stroke-width="1" />
<text transform="translate(610.44,393.00) rotate(-90)" font-size="12.4" font-weight="700" fill="#222" stroke="#222" stroke-width="0.7" textLength="39.00" lengthAdjust="spacingAndGlyphs">ORG/WHT</text>
<line x1="605.5" y1="347" x2="605.5" y2="352.5" stroke="#2a2a2a" stroke-width="1" />
<text transform="translate(642.44,393.00) rotate(-90)" font-size="12.4" font-weight="700" fill="#222" stroke="#222" stroke-width="0.7" textLength="39.00" lengthAdjust="spacingAndGlyphs">ORG/WHT</text>
<line x1="637.5" y1="347" x2="637.5" y2="352.5" stroke="#2a2a2a" stroke-width="1" />
<text transform="translate(791.74,392.00) rotate(-90)" font-size="12.4" font-weight="700" fill="#222" stroke="#222" stroke-width="0.7" textLength="18.00" lengthAdjust="spacingAndGlyphs">ORG</text>
<line x1="786.8" y1="347" x2="786.8" y2="372.5" stroke="#2a2a2a" stroke-width="1" />
<text transform="translate(823.44,392.50) rotate(-90)" font-size="12.4" font-weight="700" fill="#222" stroke="#222" stroke-width="0.7" textLength="16.50" lengthAdjust="spacingAndGlyphs">BLK</text>
<line x1="818.5" y1="347" x2="818.5" y2="374.5" stroke="#2a2a2a" stroke-width="1" />
<text transform="translate(836.74,394.00) rotate(-90)" font-size="12.4" font-weight="700" fill="#222" stroke="#222" stroke-width="0.7" textLength="39.00" lengthAdjust="spacingAndGlyphs">RED/BRN</text>
<line x1="831.8" y1="347" x2="831.8" y2="353.5" stroke="#2a2a2a" stroke-width="1" />
<text transform="translate(906.44,395.50) rotate(-90)" font-size="12.4" font-weight="700" fill="#222" stroke="#222" stroke-width="0.7" textLength="18.00" lengthAdjust="spacingAndGlyphs">ORG</text>
<line x1="901.5" y1="347" x2="901.5" y2="376.0" stroke="#2a2a2a" stroke-width="1" />
<text transform="translate(937.94,395.50) rotate(-90)" font-size="12.4" font-weight="700" fill="#222" stroke="#222" stroke-width="0.7" textLength="16.50" lengthAdjust="spacingAndGlyphs">BLK</text>
<line x1="933.0" y1="347" x2="933.0" y2="377.5" stroke="#2a2a2a" stroke-width="1" />
<text transform="translate(951.74,396.00) rotate(-90)" font-size="12.4" font-weight="700" fill="#222" stroke="#222" stroke-width="0.7" textLength="38.50" lengthAdjust="spacingAndGlyphs">RED/BRN</text>
<line x1="946.8" y1="347" x2="946.8" y2="356.0" stroke="#2a2a2a" stroke-width="1" />
<text transform="translate(166.76,355.50) rotate(90)" font-size="12.4" font-weight="700" fill="#222" stroke="#222" stroke-width="0.7" textLength="38.50" lengthAdjust="spacingAndGlyphs">ORG/WHT</text>
<line x1="65.2" y1="151" x2="65.2" y2="194.5" stroke="#6e605e" stroke-width="5.2" />
<line x1="65.2" y1="152" x2="65.2" y2="194" stroke="#fbf9f8" stroke-width="2.9000000000000004" />
<line x1="65.2" y1="158" x2="65.2" y2="193" stroke="#8f6660" stroke-width="2.9000000000000004" stroke-dasharray="1.8 7.4"/>
<line x1="152" y1="151" x2="152" y2="194.5" stroke="#6e605e" stroke-width="5.2" />
<line x1="152" y1="152" x2="152" y2="194" stroke="#fbf9f8" stroke-width="2.9000000000000004" />
<line x1="152" y1="158" x2="152" y2="193" stroke="#8f6660" stroke-width="2.9000000000000004" stroke-dasharray="1.8 7.4"/>
<line x1="260" y1="151" x2="260" y2="194.5" stroke="#3c3434" stroke-width="4.6" />
<line x1="260" y1="152" x2="260" y2="194" stroke="#fbf9f8" stroke-width="2.3" />
<line x1="260" y1="158" x2="260" y2="193" stroke="#8f6660" stroke-width="2.3" stroke-dasharray="1.8 7.4"/>
<line x1="295" y1="151" x2="295" y2="194.5" stroke="#3c3434" stroke-width="4.6" />
<line x1="295" y1="152" x2="295" y2="194" stroke="#fbf9f8" stroke-width="2.3" />
<line x1="295" y1="158" x2="295" y2="193" stroke="#8f6660" stroke-width="2.3" stroke-dasharray="1.8 7.4"/>
<line x1="170.6" y1="397" x2="170.6" y2="439" stroke="#f4d2b9" stroke-width="3.6" />
<line x1="170.6" y1="398" x2="170.6" y2="439" stroke="#d6b09c" stroke-width="1.6" />
<line x1="170.6" y1="406" x2="170.6" y2="437" stroke="#fbf3ee" stroke-width="2.0" stroke-dasharray="2 11"/>
<line x1="552" y1="399.5" x2="552" y2="437.5" stroke="#f4d2b9" stroke-width="3.8" />
<line x1="552" y1="400.5" x2="552" y2="437.5" stroke="#d6b09c" stroke-width="1.7999999999999998" />
<line x1="552" y1="408.5" x2="552" y2="435.5" stroke="#fbf3ee" stroke-width="2.1999999999999997" stroke-dasharray="2 11"/>
<line x1="606" y1="399.5" x2="606" y2="437.5" stroke="#f4d2b9" stroke-width="3.8" />
<line x1="606" y1="400.5" x2="606" y2="437.5" stroke="#d6b09c" stroke-width="1.7999999999999998" />
<line x1="606" y1="408.5" x2="606" y2="435.5" stroke="#fbf3ee" stroke-width="2.1999999999999997" stroke-dasharray="2 11"/>
<line x1="638.3" y1="399.5" x2="638.3" y2="437.5" stroke="#f4d2b9" stroke-width="3.8" />
<line x1="638.3" y1="400.5" x2="638.3" y2="437.5" stroke="#d6b09c" stroke-width="1.7999999999999998" />
<line x1="638.3" y1="408.5" x2="638.3" y2="435.5" stroke="#fbf3ee" stroke-width="2.1999999999999997" stroke-dasharray="2 11"/>
<path d="M63.5 61 L80 61 M86 61 L116 61 M122.5 61 L179 61 M186 61 L220 61 M226 61 L271.5 61 M277.5 61 L297.5 61" stroke="#c42a35" stroke-width="3" fill="none" />
<path d="M65 60 L65 77.5 M65 122 L65 150" stroke="#c42a35" stroke-width="3" fill="none" />
<path d="M152 60 L152 86 M152 91 L152 117.5 M152 122.5 L152 150" stroke="#c42a35" stroke-width="3" fill="none" />
<path d="M261 60 L261 86 M261 91.5 L261 117.5 M260.5 123 L260.5 150" stroke="#c42a35" stroke-width="3" fill="none" />
<path d="M296 60 L296 86 M296 91.5 L296 117.5 M295.5 123 L295.5 128 M295.5 133 L295.5 150" stroke="#c42a35" stroke-width="3" fill="none" />
<circle cx="65" cy="149.5" r="2.6" fill="#c42a35"/>
<circle cx="152" cy="149.5" r="2.6" fill="#b3242e"/>
<circle cx="260" cy="149.5" r="2.6" fill="#2a1013"/>
<circle cx="295" cy="149.5" r="2.6" fill="#2a1013"/>
<path d="M65 83.8 L73 101 H68.8 V118.8 H61.2 V101 H57 Z" stroke="#c42a35" stroke-width="2.6" fill="#fff" stroke-linejoin="miter"/>
<path d="M315 30 L315 49 M315 99 L315 196" stroke="#e3222b" stroke-width="3.3" fill="none" />
<path d="M315 54 L324.3 75 H320.3 V95 H309.7 V75 H305.7 Z" stroke="none" stroke-width="0" fill="#e3222b" />
<path d="M279.5 152.5 L287.8 174 H284.9 V193.5 H274.1 V174 H271.2 Z" stroke="none" stroke-width="0" fill="#df2a30" />
<path d="M279.5 159.0 L283.40000000000003 172.5 H282.0 V190.9 H277.0 V172.5 H275.59999999999997 Z" stroke="none" stroke-width="0" fill="#c8835f" />
<path d="M832.6 405.5 L840.4 426 H837.2 V445.5 H828.0 V426 H824.8000000000001 Z" stroke="none" stroke-width="0" fill="#df2a30" />
<path d="M832.6 412.0 L836.0 424.5 H834.3000000000001 V442.9 H830.9 V424.5 H829.2 Z" stroke="none" stroke-width="0" fill="#c8835f" />
<path d="M948 404 L955.8 425 H952.6 V444 H943.4 V425 H940.2 Z" stroke="none" stroke-width="0" fill="#df2a30" />
<path d="M948 410.5 L951.4 423.5 H949.7 V441.4 H946.3 V423.5 H944.6 Z" stroke="none" stroke-width="0" fill="#c8835f" />
<path d="M342 401 L348.2 421 H345.6 V441.5 H338.4 V421 H335.8 Z" stroke="none" stroke-width="0" fill="#ee8434" />
<path d="M638.3 146 L644.5999999999999 166 H642.0 V186.5 H634.5999999999999 V166 H632.0 Z" stroke="none" stroke-width="0" fill="#ee8434" />
<path d="M787.3 406 L793.6999999999999 426 H791.0999999999999 V446.5 H783.5 V426 H780.9 Z" stroke="none" stroke-width="0" fill="#f08a2c" />
<path d="M902.3 406 L908.5999999999999 426 H906.0999999999999 V447 H898.5 V426 H896.0 Z" stroke="none" stroke-width="0" fill="#f08a2c" />
<line x1="341.3" y1="394.3" x2="341.3" y2="397.5" stroke="#e9a36d" stroke-width="2.4" />
<line x1="372.3" y1="396" x2="372.3" y2="400" stroke="#7a5a86" stroke-width="3" />
<line x1="787.3" y1="396" x2="787.3" y2="399.5" stroke="#e9a36d" stroke-width="1.6" />
<line x1="902.3" y1="398" x2="902.3" y2="400.5" stroke="#e9a36d" stroke-width="1.6" />
<line x1="818.5" y1="394.5" x2="818.5" y2="396.5" stroke="#222" stroke-width="1.4" />
<line x1="638.3" y1="187.5" x2="638.3" y2="215.5" stroke="#d39b79" stroke-width="2.6" />
<line x1="520" y1="185" x2="520" y2="196.5" stroke="#5b6285" stroke-width="3" />
<line x1="552" y1="185" x2="552" y2="216" stroke="#ead3da" stroke-width="3" />
<line x1="606" y1="67" x2="606" y2="195.5" stroke="#a88a64" stroke-width="3.2" />
<line x1="606" y1="72" x2="606" y2="195" stroke="#f3eee4" stroke-width="1.2" stroke-dasharray="2.5 10.5"/>
<path d="M169.3 472.2 L181.5 472.2 M187.5 472.2 L207.5 472.2 M214 472.2 L244 472.2 M250 472.2 L279 472.2 M285 472.2 L310 472.2 M316 472.2 L342.5 472.2 M349 472.2 L381.5 472.2 M427.5 472.2 L456 472.2 M462.5 472.2 L494 472.2 M499.5 472.2 L529 472.2 M535 472.2 L565 472.2 M572 472.2 L620 472.2 M626 472.2 L640.3 472.2" stroke="#ee8434" stroke-width="3.7" fill="none" />
<path d="M171 441 L171 456 M171 460.5 L171 474" stroke="#ee8434" stroke-width="3.6" fill="none" />
<path d="M552 441 L552 454 M552 460.5 L552 474" stroke="#ee8434" stroke-width="3.6" fill="none" />
<path d="M606 441 L606 455 M606 462 L606 474" stroke="#ee8434" stroke-width="3.6" fill="none" />
<path d="M638.5 441 L638.5 455 M638.5 460 L638.5 474" stroke="#ee8434" stroke-width="3.6" fill="none" />
<circle cx="171" cy="440.5" r="2.6" fill="#1a1412"/>
<circle cx="552" cy="439" r="2.8" fill="#1a1412"/>
<circle cx="606" cy="439" r="2.8" fill="#1a1412"/>
<circle cx="638.3" cy="439" r="2.8" fill="#1a1412"/>
<path d="M386 467.6 H405.5 V464 L424 472 L405.5 480 V476.6 H386 Z" stroke="#ee8434" stroke-width="2.4" fill="#fff" />
<path d="M520 397 V429 H502" stroke="#c8303f" stroke-width="3.2" fill="none" />
<line x1="520" y1="396" x2="520" y2="399" stroke="#9a9a80" stroke-width="2" />
<rect x="517.6" y="405.6" width="4.8" height="4.8" fill="#43a356" stroke="none" stroke-width="0"/>
<rect x="517.6" y="420.1" width="4.8" height="4.8" fill="#43a356" stroke="none" stroke-width="0"/>
<rect x="506.90000000000003" y="426.6" width="4.8" height="4.8" fill="#43a356" stroke="none" stroke-width="0"/>
<path d="M742 166 L757.5 166 M762.5 166 L781 166 M786 166 L805 166 M810 166 L829 166 M834 166 L843 166 M848 166 L870 166 M876 166 L903.4 166" stroke="#e9c22f" stroke-width="3.4" fill="none" />
<path d="M901.7 165 L901.7 179 M901.7 184 L901.7 193" stroke="#e9c22f" stroke-width="3.4" fill="none" />
<path d="M744 170.7 L760 170.7 M765 170.7 L787.5 170.7" stroke="#3f4fb4" stroke-width="2.8" fill="none" />
<path d="M786.2 169.5 L786.2 182.5 M786.2 187.5 L786.2 195" stroke="#3f4fb4" stroke-width="2.8" fill="none" />
<path d="M824.7 194 V133 H969" stroke="#e07f33" stroke-width="3.4" fill="none" />
<rect x="822.2" y="136.5" width="5" height="5" fill="#f3e224" stroke="none" stroke-width="0"/>
<rect x="822.2" y="152.0" width="5" height="5" fill="#f3e224" stroke="none" stroke-width="0"/>
<rect x="822.2" y="180.0" width="5" height="5" fill="#f3e224" stroke="none" stroke-width="0"/>
<rect x="837.8" y="130.5" width="5" height="5" fill="#f3e224" stroke="none" stroke-width="0"/>
<rect x="862.8" y="130.5" width="5" height="5" fill="#f3e224" stroke="none" stroke-width="0"/>
<rect x="890.5" y="130.5" width="5" height="5" fill="#f3e224" stroke="none" stroke-width="0"/>
<rect x="918.0" y="130.5" width="5" height="5" fill="#f3e224" stroke="none" stroke-width="0"/>
<rect x="946.3" y="129.2" width="5.2" height="6.2" fill="#f3e224" stroke="none" stroke-width="0"/>
<path d="M939.2 194 V138 H977" stroke="#e9c22f" stroke-width="3.2" fill="none" />
<rect x="936.9000000000001" y="148.7" width="4.6" height="4.6" fill="#e8832f" stroke="none" stroke-width="0"/>
<rect x="936.9000000000001" y="163.7" width="4.6" height="4.6" fill="#e8832f" stroke="none" stroke-width="0"/>
<rect x="936.9000000000001" y="179.2" width="4.6" height="4.6" fill="#e8832f" stroke="none" stroke-width="0"/>
<rect x="947.0" y="137.1" width="4.6" height="4.6" fill="#e8832f" stroke="none" stroke-width="0"/>
<rect x="966.2" y="136.7" width="4.6" height="4.6" fill="#e8832f" stroke="none" stroke-width="0"/>
<text x="205.00" y="25.00" font-size="16.6" font-weight="700" fill="#0c0c0c" stroke="#0c0c0c" stroke-width="0" textLength="279.00" lengthAdjust="spacingAndGlyphs">(+) direct power to ECU &amp; Console</text>
<text x="561.00" y="61.00" font-size="16.6" font-weight="700" fill="#0c0c0c" stroke="#0c0c0c" stroke-width="0" textLength="86.50" lengthAdjust="spacingAndGlyphs">ECU ctrl (-)</text>
<text x="622.50" y="112.00" font-size="16.6" font-weight="700" fill="#0c0c0c" stroke="#0c0c0c" stroke-width="0" textLength="316.50" lengthAdjust="spacingAndGlyphs">To ECU, coils, injectors, ISC, O2, shift &amp;</text>
<text x="622.50" y="136.00" font-size="16.6" font-weight="700" fill="#0c0c0c" stroke="#0c0c0c" stroke-width="0" textLength="97.50" lengthAdjust="spacingAndGlyphs">fan relay (+)</text>
<text x="405.50" y="432.50" font-size="16.6" font-weight="700" fill="#0c0c0c" stroke="#0c0c0c" stroke-width="0" textLength="92.50" lengthAdjust="spacingAndGlyphs">Key voltage</text>
<text x="686.00" y="175.00" font-size="12" font-weight="700" fill="#0c0c0c" stroke="#0c0c0c" stroke-width="0" textLength="52.00" lengthAdjust="spacingAndGlyphs">ECU/shift</text>
<text x="689.00" y="186.00" font-size="12" font-weight="700" fill="#0c0c0c" stroke="#0c0c0c" stroke-width="0" textLength="38.50" lengthAdjust="spacingAndGlyphs">control</text>
<text x="980.50" y="133.00" font-size="12" font-weight="700" fill="#0c0c0c" stroke="#0c0c0c" stroke-width="0" textLength="24.50" lengthAdjust="spacingAndGlyphs">Shift</text>
<text x="980.50" y="144.00" font-size="12" font-weight="700" fill="#0c0c0c" stroke="#0c0c0c" stroke-width="0" textLength="34.50" lengthAdjust="spacingAndGlyphs">Motor</text>
<text x="504.00" y="517.00" font-size="13.5" font-weight="700" fill="#2a2a2a" stroke="#2a2a2a" stroke-width="0.7" textLength="146.00" lengthAdjust="spacingAndGlyphs">POWER DISTRIBUTION MODULE</text>
</svg>
</body>
</html>
